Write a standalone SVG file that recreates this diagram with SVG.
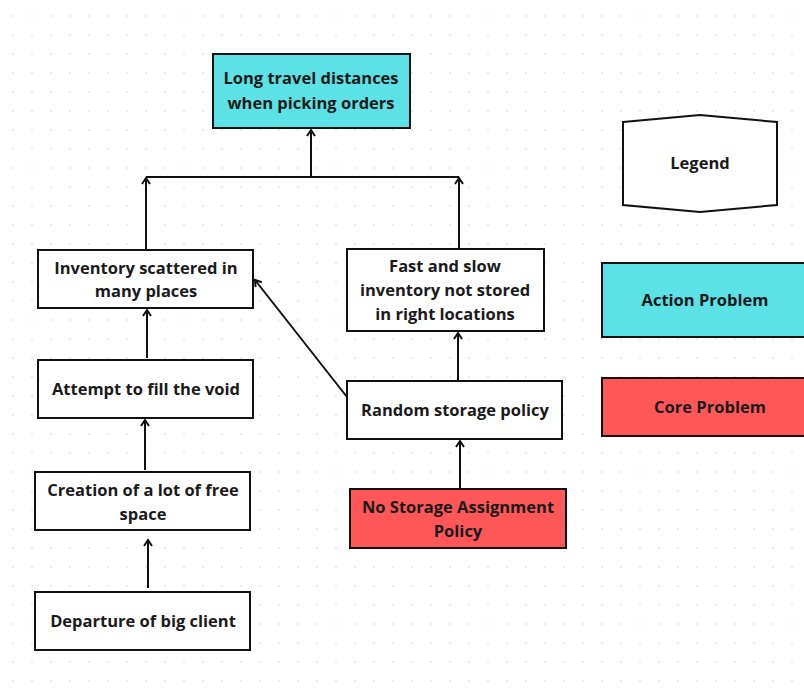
<svg xmlns="http://www.w3.org/2000/svg" width="804" height="693" viewBox="0 0 804 693">
<defs>
<pattern id="dots" x="4" y="7" width="19" height="19" patternUnits="userSpaceOnUse">
<circle cx="9" cy="9" r="1" fill="#e6e6e6"/>
</pattern>
<marker id="arr" markerWidth="10" markerHeight="10" refX="8" refY="5" orient="auto" markerUnits="userSpaceOnUse">
<polyline points="2,1 8,5 2,9" fill="none" stroke="#111" stroke-width="2"/>
</marker>
<style>
.box{stroke:#111;stroke-width:2;fill:#fff}
.cyan{fill:#5ce1e6}
.red{fill:#ff5757}
.t{font-family:"Open Sans","Liberation Sans",sans-serif;font-weight:700;font-size:16.5px;fill:#1a1a1a;text-anchor:middle}
.c{stroke:#111;stroke-width:2;fill:none}
</style>
</defs>
<rect width="804" height="693" fill="#fff"/>
<rect width="804" height="693" fill="url(#dots)"/>
<g id="connectors">
<line class="c" x1="311" y1="177" x2="311" y2="130" marker-end="url(#arr)"/>
<line class="c" x1="146" y1="177" x2="459" y2="177"/>
<line class="c" x1="146" y1="250" x2="146" y2="178" marker-end="url(#arr)"/>
<line class="c" x1="459" y1="249" x2="459" y2="178" marker-end="url(#arr)"/>
<line class="c" x1="147" y1="358" x2="147" y2="310" marker-end="url(#arr)"/>
<line class="c" x1="145" y1="470" x2="145" y2="420" marker-end="url(#arr)"/>
<line class="c" x1="148" y1="588" x2="148" y2="540" marker-end="url(#arr)"/>
<line class="c" x1="458" y1="380" x2="458" y2="333" marker-end="url(#arr)"/>
<line class="c" x1="347" y1="397" x2="255" y2="280" marker-end="url(#arr)"/>
<line class="c" x1="460" y1="488" x2="460" y2="441" marker-end="url(#arr)"/>
</g>
<g id="n-long">
<rect class="box cyan" x="213" y="54" width="197" height="74"/>
<text class="t" x="311" y="84">Long travel distances</text>
<text class="t" x="311" y="109">when picking orders</text>
</g>
<g id="n-inventory">
<rect class="box" x="38" y="250" width="215" height="58"/>
<text class="t" x="146" y="274">Inventory scattered in</text>
<text class="t" x="146" y="297">many places</text>
</g>
<g id="n-attempt">
<rect class="box" x="38" y="360" width="215" height="58"/>
<text class="t" x="146" y="395">Attempt to fill the void</text>
</g>
<g id="n-creation">
<rect class="box" x="35" y="472" width="215" height="58"/>
<text class="t" x="143" y="496">Creation of a lot of free</text>
<text class="t" x="143" y="520">space</text>
</g>
<g id="n-departure">
<rect class="box" x="35" y="592" width="215" height="58"/>
<text class="t" x="143" y="627">Departure of big client</text>
</g>
<g id="n-fast">
<rect class="box" x="347" y="249" width="197" height="82"/>
<text class="t" x="445" y="272">Fast and slow</text>
<text class="t" x="445" y="296">inventory not stored</text>
<text class="t" x="445" y="320">in right locations</text>
</g>
<g id="n-random">
<rect class="box" x="347" y="381" width="215" height="58"/>
<text class="t" x="455" y="416">Random storage policy</text>
</g>
<g id="n-nostorage">
<rect class="box red" x="350" y="489" width="216" height="59"/>
<text class="t" x="458" y="513">No Storage Assignment</text>
<text class="t" x="458" y="537">Policy</text>
</g>
<g id="legend">
<polygon class="box" points="623,122 700,115 777,122 777,205 700,212 623,205"/>
<text class="t" x="700" y="169">Legend</text>
</g>
<g id="legend-action">
<rect class="box cyan" x="602" y="263" width="210" height="74"/>
<text class="t" x="705" y="306">Action Problem</text>
</g>
<g id="legend-core">
<rect class="box red" x="602" y="378" width="210" height="58"/>
<text class="t" x="710" y="413">Core Problem</text>
</g>
</svg>
